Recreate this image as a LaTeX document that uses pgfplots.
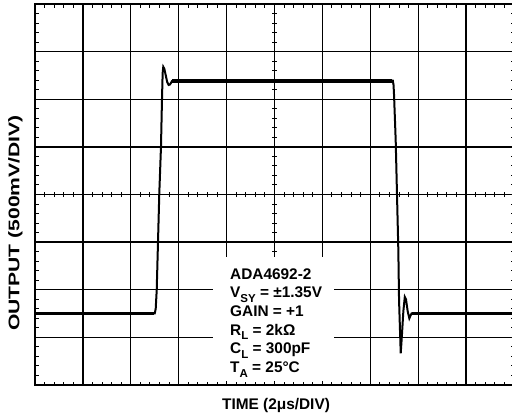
\documentclass[border=0pt]{standalone}
\usepackage{pgfplots}
\pgfplotsset{compat=1.18}
\usepackage{graphicx}
\usepackage{fontspec}
\setmainfont{Liberation Sans}
\newcommand{\sub}[1]{\raisebox{-0.28em}{\fontsize{11.5bp}{11.5bp}\selectfont #1}}
\begin{document}
\begin{tikzpicture}[x=1bp,y=1bp]
\begin{axis}[
  at={(0,0)}, anchor=south west,
  scale only axis, width=479bp, height=381bp,
  xmin=0, xmax=10, ymin=0, ymax=8,
  xtick={0,...,10}, ytick={0,...,8},
  xticklabels={}, yticklabels={},
  grid=major, major grid style={black, line width=1.3bp},
  major tick length=0pt,
  minor x tick num=4, minor y tick num=4,
  minor tick length=3.5bp, tick align=inside,
  every tick/.style={black, line width=1bp},
  axis line style={line width=2bp},
]
\addplot[black, line width=2bp] coordinates {
 (0,1.51) (1.2,1.50) (2.50,1.505) (2.52,1.60) (2.541,1.995) (2.595,4.03) (2.63,5.0) (2.651,6.0)
 (2.665,6.55) (2.678,6.68) (2.70,6.64) (2.73,6.50) (2.76,6.36) (2.79,6.30) (2.818,6.31)
 (2.86,6.38) (2.958,6.37) (4.0,6.39) (5.0,6.39) (6.0,6.39) (7.0,6.39) (7.47,6.39)
 (7.485,6.30) (7.495,6.10) (7.53,5.14) (7.585,2.835) (7.60,1.785) (7.615,1.30)
 (7.635,0.666) (7.66,1.05) (7.69,1.55) (7.72,1.85) (7.745,1.80) (7.78,1.55)
 (7.815,1.40) (7.84,1.46) (7.864,1.506) (9.0,1.51) (10,1.51)
};
\addplot[black, line width=4.5bp] coordinates {(2.86,6.385) (7.46,6.385)};
\addplot[black, line width=3.6bp] coordinates {(0,1.505) (2.49,1.505)};
\addplot[black, line width=3.6bp] coordinates {(7.86,1.505) (10,1.505)};
\end{axis}
% centre-line ticks
\foreach \i in {1,...,49} {\draw[line width=1bp] ({\i*9.58},188) -- ({\i*9.58},193);}
\foreach \j in {1,...,39} {\draw[line width=1bp] (237,{\j*9.525}) -- (242,{\j*9.525});}
% white panel behind annotation
\fill[white] (178,4.2) rectangle (299,128);
% annotation
\begin{scope}[every node/.style={anchor=base west, inner sep=0pt, font=\bfseries\fontsize{15.4bp}{18.7bp}\selectfont}]
\node at (195,106) {ADA4692-2};
\node at (195,87.3) {V\sub{SY} = ±1.35V};
\node at (195,68.6) {GAIN = +1};
\node at (195,50) {R\sub{L} = 2kΩ};
\node at (195,31.2) {C\sub{L} = 300pF};
\node at (195,12.3) {T\sub{A} = 25°C};
\end{scope}
\node[anchor=base, inner sep=0pt, font=\bfseries\fontsize{15.4bp}{18bp}\selectfont] at (241,-24) {TIME (2μs/DIV)};
\node[rotate=90, inner sep=0pt, font=\bfseries\fontsize{15.4bp}{18bp}\selectfont] at (-19.5,162) {\scalebox{1.37}[1]{OUTPUT (500mV/DIV)}};
\pgfresetboundingbox
\useasboundingbox (-35,-31) rectangle (477,385);
\end{tikzpicture}
\end{document}
